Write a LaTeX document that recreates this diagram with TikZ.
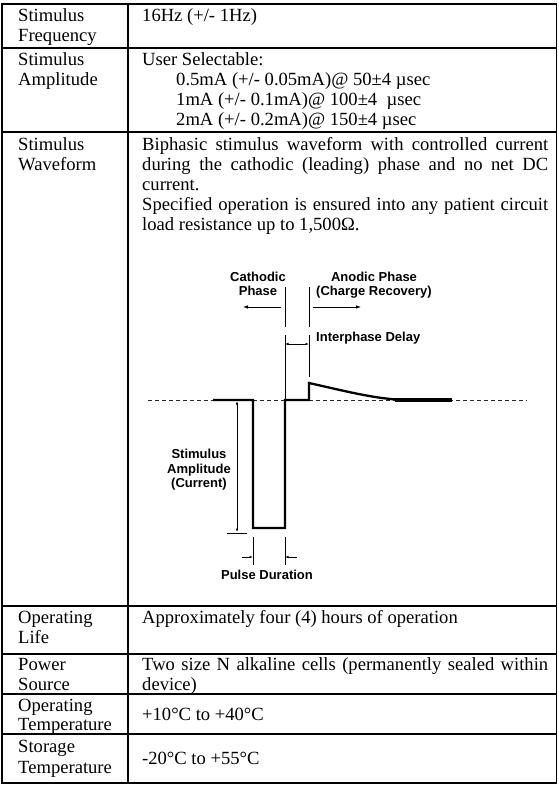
\documentclass[tikz,border=0pt]{standalone}
\usepackage{fontspec}
\setmainfont{Liberation Serif}
\setsansfont{Liberation Sans}
\usetikzlibrary{arrows.meta}
\begin{document}
\begin{tikzpicture}[x=1pt,y=-1pt,
  gridline/.style={line width=1.4pt, line join=miter},
  txt/.style={anchor=base west, inner sep=0pt, font=\fontsize{18.6}{20}\selectfont},
  lbl/.style={inner sep=0pt, align=center, font=\fontsize{13}{14.5}\selectfont\sffamily\bfseries},
  wave/.style={line width=2.3pt, line join=miter},
  dim/.style={line width=0.8pt},
  arr/.style={-{Latex[length=5pt,width=3.6pt]}},
  sarr/.style={-{Latex[length=3.5pt,width=2.6pt]}},
  darr/.style={{Latex[length=3.5pt,width=2.6pt]}-{Latex[length=3.5pt,width=2.6pt]}},
  dashln/.style={line width=0.9pt, black!85, dash pattern=on 4pt off 3pt}
]
\useasboundingbox (0,0) rectangle (558,785);
% ---- table grid ----
\draw[gridline] (2,4) rectangle (556.5,783);
\draw[gridline] (128,4) -- (128,783);
\foreach \yy in {48,132,606,654,694,734}
  \draw[gridline] (2,\yy) -- (556.5,\yy);
% ---- column 1 ----
\node[txt] (a1) at (18,21) {Stimulus};
\node[txt] (a2) at (18,41) {Frequency};
\node[txt] (b1) at (18,65) {Stimulus};
\node[txt] (b2) at (18,85) {Amplitude};
\node[txt] (c1) at (18,150) {Stimulus};
\node[txt] (c2) at (18,170) {Waveform};
\node[txt] (d1) at (18,623) {Operating};
\node[txt] (d2) at (18,643) {Life};
\node[txt] (e1) at (18,670) {Power};
\node[txt] (e2) at (18,690) {Source};
\node[txt] (f1) at (18,711) {Operating};
\node[txt] (f2) at (18,730) {Temperature};
\node[txt] (g1) at (18,752) {Storage};
\node[txt] (g2) at (18,773) {Temperature};
% ---- column 2 ----
\node[txt] (A1) at (142,21) {16Hz (+/- 1Hz)};
\node[txt] (B1) at (142,65) {User Selectable:};
\node[txt] (B2) at (176,85) {0.5mA (+/- 0.05mA)@ 50±4 µsec};
\node[txt] (B3) at (176,105) {1mA (+/- 0.1mA)@ 100±4 \ µsec};
\node[txt] (B4) at (176,125) {2mA (+/- 0.2mA)@ 150±4 µsec};
\node[txt] (C1) at (142,150) {\makebox[406pt][s]{Biphasic stimulus waveform with controlled current}};
\node[txt] (C2) at (142,170) {\makebox[406pt][s]{during the cathodic (leading) phase and no net DC}};
\node[txt] (C3) at (142,190) {current.};
\node[txt] (C4) at (142,210) {\makebox[406pt][s]{Specified operation is ensured into any patient circuit}};
\node[txt] (C5) at (142,230) {load resistance up to 1,500Ω.};
\node[txt] (D1) at (142,623) {Approximately four (4) hours of operation};
\node[txt] (E1) at (142,670) {\makebox[406pt][s]{Two size N alkaline cells (permanently sealed within}};
\node[txt] (E2) at (142,690) {device)};
\node[txt] (F1) at (142,720) {+10°C to +40°C};
\node[txt] (G1) at (142,764) {-20°C to +55°C};
% ---- waveform diagram ----
\coordinate (dl) at (148,400);
\coordinate (dr) at (527,400);
\draw[dashln] (dl) -- (dr);
\coordinate (w0) at (213,400);
\coordinate (w1) at (253,400);
\coordinate (w2) at (253,528);
\coordinate (w3) at (285,528);
\coordinate (w4) at (285,400);
\coordinate (w5) at (309,400);
\coordinate (w6) at (309,383);
\coordinate (w7) at (405,400);
\coordinate (w8) at (452,400);
\draw[wave] (w0) -- (w1) -- (w2) -- (w3) -- (w4) -- (w5) -- (w6)
  .. controls (345,391) and (375,399) .. (w7);
\draw[line width=3.6pt] (395,400) -- (w8);
% phase boundary markers
\coordinate (m1t) at (285,287); \coordinate (m1b) at (285,327);
\coordinate (m2t) at (309,287); \coordinate (m2b) at (309,327);
\coordinate (m1l) at (285,335); \coordinate (m2l) at (309,335);
\coordinate (m2e) at (309,377);
\draw[dim] (m1t) -- (m1b);
\draw[dim] (m2t) -- (m2b);
\draw[dim] (m1l) -- (w4);
\draw[dim] (m2l) -- (m2e);
\coordinate (ca0) at (281,307); \coordinate (ca1) at (243,307);
\coordinate (an0) at (313,307); \coordinate (an1) at (361,307);
\draw[dim,arr] (ca0) -- (ca1);
\draw[dim,arr] (an0) -- (an1);
\coordinate (ip0) at (285,344); \coordinate (ip1) at (309,344);
\draw[dim,darr] (ip0) -- (ip1);
% amplitude dimension
\coordinate (am0) at (237,401); \coordinate (am1) at (237,532);
\coordinate (tk0) at (227,533); \coordinate (tk1) at (247,533);
\draw[dim,darr] (am0) -- (am1);
\draw[dim] (tk0) -- (tk1);
% pulse duration dimension
\coordinate (pd1t) at (253,537); \coordinate (pd1b) at (253,565);
\coordinate (pd2t) at (285,537); \coordinate (pd2b) at (285,565);
\draw[dim] (pd1t) -- (pd1b);
\draw[dim] (pd2t) -- (pd2b);
\coordinate (pl0) at (242,557); \coordinate (pl1) at (253,557);
\coordinate (pr0) at (297,557); \coordinate (pr1) at (285,557);
\draw[dim,sarr] (pl0) -- (pl1);
\draw[dim,sarr] (pr0) -- (pr1);
% labels
\node[lbl] (cath) at (258,284) {Cathodic\\Phase};
\node[lbl] (anod) at (374,285) {Anodic Phase\\(Charge Recovery)};
\node[lbl, anchor=west] (ipd) at (316,338) {Interphase Delay};
\node[lbl] (samp) at (199,470) {Stimulus\\Amplitude\\(Current)};
\node[lbl] (pdur) at (267,575) {Pulse Duration};
\end{tikzpicture}
\end{document}
